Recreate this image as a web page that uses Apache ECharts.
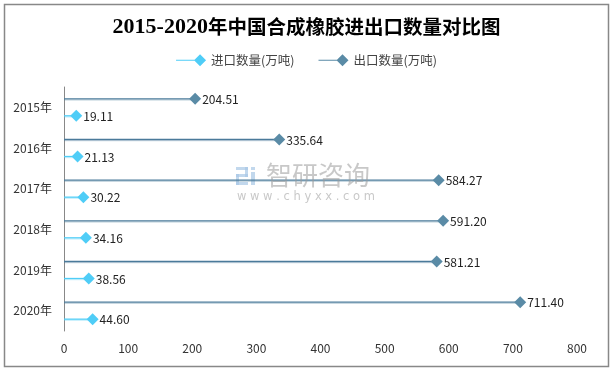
<!DOCTYPE html>
<html><head><meta charset="utf-8">
<script src="https://cdn.jsdelivr.net/npm/echarts@6/dist/echarts.min.js"></script>
<style>html,body{margin:0;padding:0;background:#fff}#c{width:613px;height:371px}</style>
</head><body><div id="c"></div>
<script>
const years = ['2015年','2016年','2017年','2018年','2019年','2020年'];
const importVals = [19.11, 21.13, 30.22, 34.16, 38.56, 44.60];
const exportVals = [204.51, 335.64, 584.27, 591.20, 581.21, 711.40];
const xTicks = {min: 0, max: 800, interval: 100};
const importName = '进口数量(万吨)';
const exportName = '出口数量(万吨)';
const importColor = '#4FCDF7';
const exportColor = '#5A8BA6';
const legendIcon = 'path://M0,5.4 L19,5.4 L19,6.6 L0,6.6 Z M24,0 L30,6 L24,12 L18,6 Z';

function makeRender(offset, color, lineColor) {
  return function (params, api) {
    const v = api.value(0), cat = api.value(1);
    const s = api.coord([0, cat]);
    const e = api.coord([v, cat]);
    const y = s[1] + offset;
    const r = 6;
    return {
      type: 'group',
      children: [
        {type: 'line', shape: {x1: s[0], y1: y + 1.2, x2: e[0], y2: y + 1.2}, style: {stroke: lineColor, lineWidth: 1, opacity: 0.35}},
        {type: 'line', shape: {x1: s[0], y1: y, x2: e[0], y2: y}, style: {stroke: lineColor, lineWidth: 1.3}},
        {type: 'polygon', shape: {points: [[e[0], y - r], [e[0] + r, y], [e[0], y + r], [e[0] - r, y]]}, style: {fill: color}},
        {type: 'text', x: e[0] + 7, y: y + 0.5, style: {text: v.toFixed(2), fill: '#222', font: '12px "Noto Sans CJK SC", "Noto Sans", sans-serif', align: 'left', verticalAlign: 'middle'}}
      ]
    };
  };
}

const wm = '#a8c8e6';
const chart = echarts.init(document.getElementById('c'), null, {renderer: 'canvas'});
chart.setOption({
  animation: false,
  backgroundColor: '#fff',
  title: {
    text: '{a|2015-2020}{b|年中国合成橡胶进出口数量对比图}',
    left: 'center', top: 11,
    textStyle: {
      rich: {
        a: {fontFamily: '"Liberation Serif", serif', fontWeight: 'bold', fontSize: 22, color: '#000'},
        b: {fontFamily: '"Noto Sans CJK SC", sans-serif', fontWeight: 'bold', fontSize: 19.5, color: '#000'}
      }
    }
  },
  legend: {
    top: 49, left: 'center',
    itemWidth: 30, itemHeight: 12, itemGap: 24,
    textStyle: {fontSize: 12.5, color: '#444', fontFamily: '"Noto Sans CJK SC", sans-serif', padding: [0, 0, 0, 0]},
    data: [{name: importName, icon: legendIcon}, {name: exportName, icon: legendIcon}]
  },
  grid: {left: 64, right: 36, top: 87, bottom: 40},
  xAxis: {
    type: 'value', min: xTicks.min, max: xTicks.max, interval: xTicks.interval,
    axisLine: {show: false}, axisTick: {show: false}, splitLine: {show: false},
    axisLabel: {color: '#333', fontSize: 12, margin: 11, fontFamily: '"Noto Sans CJK SC", sans-serif'}
  },
  yAxis: {
    type: 'category', data: years, inverse: true,
    axisLine: {show: true, lineStyle: {color: '#888', width: 1}},
    axisTick: {show: false},
    axisLabel: {color: '#333', fontSize: 12, margin: 12, fontFamily: '"Noto Sans CJK SC", sans-serif'}
  },
  graphic: [
    {type: 'rect', left: 2, top: 2, shape: {width: 604, height: 362}, style: {fill: 'none', stroke: '#888', lineWidth: 1.5}, silent: true, z: 100},
    {type: 'text', left: 266, top: 162, style: {text: '智研咨询', font: '26px "Noto Sans CJK SC", sans-serif', fill: '#9a9a9a', opacity: 0.55}, z: 100, silent: true},
    {type: 'text', left: 237, top: 191, style: {text: 'w w w . c h y x x . c o m', font: '11.5px "DejaVu Sans", sans-serif', fill: '#9a9a9a', opacity: 0.55}, z: 100, silent: true},
    {type: 'group', left: 236, top: 167, z: 100, silent: true, children: [
      {type: 'rect', shape: {x: 0, y: 0, width: 12, height: 3}, style: {fill: wm, opacity: 0.7}},
      {type: 'rect', shape: {x: 9, y: 0, width: 3, height: 10}, style: {fill: wm, opacity: 0.7}},
      {type: 'rect', shape: {x: 0, y: 7, width: 12, height: 3}, style: {fill: wm, opacity: 0.7}},
      {type: 'rect', shape: {x: 0, y: 7, width: 3, height: 11}, style: {fill: wm, opacity: 0.7}},
      {type: 'rect', shape: {x: 0, y: 15, width: 12, height: 3}, style: {fill: wm, opacity: 0.7}},
      {type: 'rect', shape: {x: 15, y: 0, width: 4, height: 3}, style: {fill: wm, opacity: 0.7}},
      {type: 'rect', shape: {x: 15, y: 5, width: 4, height: 13}, style: {fill: wm, opacity: 0.7}}
    ]}
  ],
  series: [
    {name: importName, type: 'line', data: [], symbol: 'diamond', itemStyle: {color: importColor}, lineStyle: {color: importColor}},
    {name: exportName, type: 'line', data: [], symbol: 'diamond', itemStyle: {color: exportColor}, lineStyle: {color: exportColor}},
    {name: importName, type: 'custom', renderItem: makeRender(8.5, importColor, importColor), encode: {x: 0, y: 1}, data: importVals.map((v, i) => [v, i]), z: 3},
    {name: exportName, type: 'custom', renderItem: makeRender(-8.5, exportColor, '#4A7A9A'), encode: {x: 0, y: 1}, data: exportVals.map((v, i) => [v, i]), z: 3}
  ]
});
</script></body></html>
